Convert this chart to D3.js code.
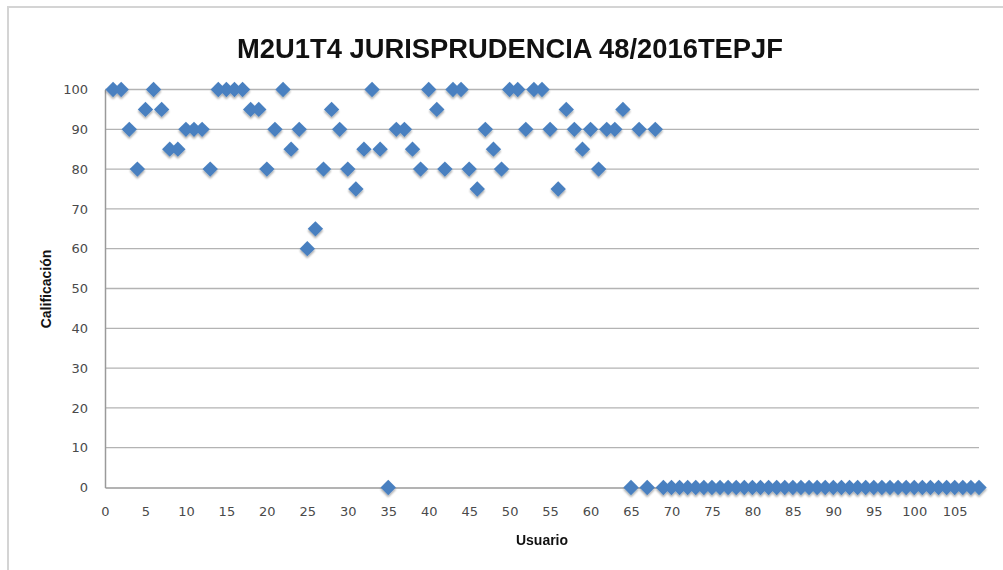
<!DOCTYPE html>
<html><head><meta charset="utf-8">
<script src="https://cdn.jsdelivr.net/npm/d3@7"></script>
<style>body{margin:0;background:#fff;} svg{display:block;}</style>
</head><body>
<svg id="chart" width="1003" height="570"></svg>
<script>
const title = "M2U1T4 JURISPRUDENCIA 48/2016TEPJF";
const xLabel = "Usuario";
const yLabel = "Calificación";
const usuarios = d3.range(1, 109);
const calificaciones = [100,100,90,80,95,100,95,85,85,90,90,90,80,100,100,100,100,95,95,80,
  90,100,85,90,60,65,80,95,90,80,75,85,100,85,0,90,90,85,80,100,
  95,80,100,100,80,75,90,85,80,100,100,90,100,100,90,75,95,90,85,90,
  80,90,90,95,0,90,0,90,0,0,0,0,0,0,0,0,0,0,0,0,0,0,0,0,0,0,0,0,
  0,0,0,0,0,0,0,0,0,0,0,0,0,0,0,0,0,0,0,0];
const xTicks = d3.range(0, 106, 5);
const yTicks = d3.range(0, 101, 10);

const svg = d3.select("#chart");
const defs = svg.append("defs");
const f = defs.append("filter").attr("id","sh").attr("x","-50%").attr("y","-50%").attr("width","200%").attr("height","200%");
f.append("feGaussianBlur").attr("in","SourceAlpha").attr("stdDeviation",1.2).attr("result","b");
f.append("feOffset").attr("in","b").attr("dx",0).attr("dy",2).attr("result","o");
f.append("feComponentTransfer").attr("in","o").attr("result","o2").append("feFuncA").attr("type","linear").attr("slope",0.35);
const m = f.append("feMerge"); m.append("feMergeNode").attr("in","o2"); m.append("feMergeNode").attr("in","SourceGraphic");

// frame
svg.append("rect").attr("x",8).attr("y",7).attr("width",1100).attr("height",700)
  .attr("fill","none").attr("stroke","#d4d4d4").attr("stroke-width",2);

const x = d3.scaleLinear().domain([0,108]).range([105,979]);
const y = d3.scaleLinear().domain([0,100]).range([487.5,89.5]);

// gridlines
svg.append("g").selectAll("line").data(yTicks.filter(d=>d>0)).join("line")
  .attr("x1",105).attr("x2",979).attr("y1",d=>y(d)).attr("y2",d=>y(d))
  .attr("stroke","#b3b3b3").attr("stroke-width",1.3);

// axes
const yAxis = d3.axisLeft(y).tickValues(yTicks).tickSize(0).tickPadding(17);
const gy = svg.append("g").attr("transform","translate(105,0)").call(yAxis);
gy.select(".domain").attr("stroke","#9a9a9a").attr("stroke-width",1.5);
gy.selectAll("text").attr("font-family","DejaVu Sans").attr("font-size",13).attr("fill","#4a4a4a");

const xAxis = d3.axisBottom(x).tickValues(xTicks).tickSize(0).tickPadding(19);
const gx = svg.append("g").attr("transform","translate(0,487.5)").call(xAxis);
gx.select(".domain").attr("stroke","#9a9a9a").attr("stroke-width",1.5);
gx.selectAll("text").attr("font-family","DejaVu Sans").attr("font-size",13).attr("fill","#4a4a4a");

// points
const data = usuarios.map((u,i)=>({u, v: calificaciones[i]}));
svg.append("g").attr("filter","url(#sh)").selectAll("path").data(data).join("path")
  .attr("d", d3.symbol(d3.symbolDiamond2, 150))
  .attr("transform", d=>`translate(${x(d.u)},${y(d.v)})`)
  .attr("fill","#4a80c0");

// title
svg.append("text").attr("x",510).attr("y",58).attr("text-anchor","middle")
  .attr("font-family","Liberation Sans Narrow, Liberation Sans, sans-serif").attr("font-weight","bold")
  .attr("font-size",27).attr("fill","#111").attr("textLength",546).attr("lengthAdjust","spacingAndGlyphs")
  .text(title);

svg.append("text").attr("x",542).attr("y",545).attr("text-anchor","middle")
  .attr("font-family","Liberation Sans Narrow, Liberation Sans, sans-serif").attr("font-weight","bold")
  .attr("font-size",14).attr("fill","#111").text(xLabel);

svg.append("text").attr("transform","translate(51,289) rotate(-90)").attr("text-anchor","middle")
  .attr("font-family","Liberation Sans Narrow, Liberation Sans, sans-serif").attr("font-weight","bold")
  .attr("font-size",14).attr("fill","#111").text(yLabel);
</script>
</body></html>
